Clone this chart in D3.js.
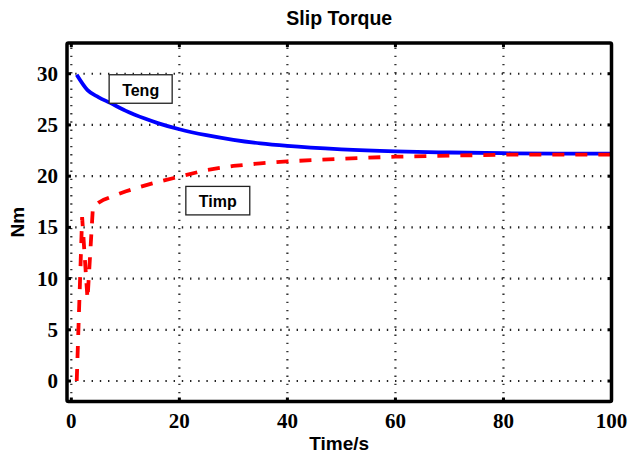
<!DOCTYPE html>
<html>
<head>
<meta charset="utf-8">
<script src="https://cdn.jsdelivr.net/npm/d3@7/dist/d3.min.js"></script>
<style>
  html, body { margin: 0; padding: 0; background: #fff; }
  svg { display: block; }
</style>
</head>
<body>
<div id="chart"></div>
<script>
// ---- data ----
const tengTime   = [1, 3, 5, 7.2, 10, 13.6, 16, 20, 25, 30, 35, 40, 50, 60, 70, 80, 90, 100];
const tengTorque = [29.9, 28.4, 27.72, 27.15, 26.4, 25.62, 25.18, 24.58, 24.0, 23.55, 23.2, 22.95, 22.62, 22.42, 22.31, 22.24, 22.2, 22.2];

const timpTime   = [1, 2, 3, 4, 5, 6, 8, 10, 12.4, 15, 20, 25, 30, 35, 40, 50, 60, 70, 80, 90, 100];
const timpTorque = [0, 16, 8, 17, 17.4, 17.7, 18.1, 18.5, 18.9, 19.3, 19.95, 20.6, 21.0, 21.25, 21.45, 21.7, 21.9, 22.0, 22.1, 22.1, 22.1];

const xTicks = [0, 20, 40, 60, 80, 100];
const yTicks = [0, 5, 10, 15, 20, 25, 30];

const titleText = "Slip Torque";
const xLabel = "Time/s";
const yLabel = "Nm";
const annotations = [
  { text: "Teng", x: 7.0, y: 29.9 },
  { text: "Timp", x: 21.2, y: 19.0 }
];

// ---- layout ----
const W = 630, H = 457;
const L = 67, R = 611.5, T = 43, B = 401.5;

const svg = d3.select("#chart").append("svg")
  .attr("width", W).attr("height", H);

const x = d3.scaleLinear().domain([-0.8, 100]).range([L, R]);
const y = d3.scaleLinear().domain([-2, 33]).range([B, T]);

// grid
const grid = svg.append("g");
grid.selectAll("line.hg").data(yTicks).enter().append("line")
  .attr("x1", L).attr("x2", R)
  .attr("y1", d => y(d)).attr("y2", d => y(d))
  .attr("stroke", "#222").attr("stroke-width", 2.2)
  .attr("stroke-dasharray", "1.4,6.8");
grid.selectAll("line.vg").data(xTicks).enter().append("line")
  .attr("y1", B).attr("y2", T)
  .attr("x1", d => x(d)).attr("x2", d => x(d))
  .attr("stroke", "#333").attr("stroke-width", 2.2)
  .attr("stroke-dasharray", "1.4,6.8");

// ticks (inward)
const tk = svg.append("g").attr("stroke", "#000").attr("stroke-width", 3);
yTicks.forEach(d => {
  tk.append("line").attr("x1", L).attr("x2", L + 4).attr("y1", y(d)).attr("y2", y(d));
  tk.append("line").attr("x1", R).attr("x2", R - 4).attr("y1", y(d)).attr("y2", y(d));
});
xTicks.forEach(d => {
  tk.append("line").attr("y1", B).attr("y2", B - 4).attr("x1", x(d)).attr("x2", x(d));
  tk.append("line").attr("y1", T).attr("y2", T + 4).attr("x1", x(d)).attr("x2", x(d));
});

// lines
const lineTeng = d3.line().x((d, i) => x(tengTime[i])).y(d => y(d)).curve(d3.curveMonotoneX);
const lineTimp = d3.line().x((d, i) => x(timpTime[i])).y(d => y(d)).curve(d3.curveLinear);

svg.append("path").attr("d", lineTeng(tengTorque))
  .attr("fill", "none").attr("stroke", "#0000ff").attr("stroke-width", 3.8)
  .attr("stroke-linejoin", "round");
svg.append("path").attr("d", lineTimp(timpTorque))
  .attr("fill", "none").attr("stroke", "#ff0000").attr("stroke-width", 3.8)
  .attr("stroke-dasharray", "12,11");

// frame
svg.append("rect").attr("x", L).attr("y", T).attr("width", R - L).attr("height", B - T)
  .attr("fill", "none").attr("stroke", "#000").attr("stroke-width", 3.5).attr("rx", 1.5);

// tick labels
const serif = "'Liberation Serif', 'Times New Roman', serif";
const sans = "'Liberation Sans', Arial, Helvetica, sans-serif";
svg.append("g").selectAll("text").data(yTicks).enter().append("text")
  .attr("x", L - 9).attr("y", d => y(d) + 7)
  .attr("text-anchor", "end")
  .attr("font-family", serif).attr("font-weight", "bold").attr("font-size", 21)
  .text(d => d);
svg.append("g").selectAll("text").data(xTicks).enter().append("text")
  .attr("x", d => x(d)).attr("y", 428)
  .attr("text-anchor", "middle")
  .attr("font-family", serif).attr("font-weight", "bold").attr("font-size", 21)
  .text(d => d);

// titles
svg.append("text").attr("x", (L + R) / 2).attr("y", 25)
  .attr("text-anchor", "middle").attr("font-family", sans).attr("font-weight", "bold")
  .attr("font-size", 19.5).text(titleText);
svg.append("text").attr("x", (L + R) / 2).attr("y", 450)
  .attr("text-anchor", "middle").attr("font-family", sans).attr("font-weight", "bold")
  .attr("font-size", 19).text(xLabel);
svg.append("text").attr("transform", `translate(24,${(T + B) / 2}) rotate(-90)`)
  .attr("text-anchor", "middle").attr("font-family", sans).attr("font-weight", "bold")
  .attr("font-size", 19).text(yLabel);

// annotations
annotations.forEach(a => {
  const g = svg.append("g").attr("transform", `translate(${x(a.x)},${y(a.y)})`);
  const t = g.append("text").attr("font-family", sans).attr("font-weight", "bold")
    .attr("font-size", 16).attr("x", 13).attr("y", 21).text(a.text);
  const w = t.node().getComputedTextLength();
  g.insert("rect", "text").attr("x", 0).attr("y", 0).attr("width", w + 26).attr("height", 28.5)
    .attr("fill", "#fff").attr("stroke", "#222").attr("stroke-width", 1.3);
});
</script>
</body>
</html>
